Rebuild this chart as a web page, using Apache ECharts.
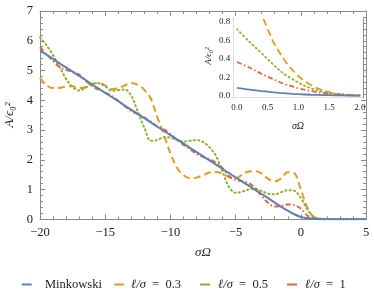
<!DOCTYPE html>
<html><head><meta charset="utf-8">
<script src="https://cdn.jsdelivr.net/npm/echarts@6/dist/echarts.min.js"></script>
<style>html,body{margin:0;padding:0;background:#fff}#c{width:374px;height:302px}</style>
</head><body><div id="c"></div>
<script>
// ---- main plot data (σΩ vs A/ε0²) ----
const sigmaOmega = [-20,-19.5,-19,-18.5,-18,-17.5,-17,-16.5,-16,-15.5,-15,-14.5,-14,-13.5,-13,-12.5,-12,-11.5,-11,-10.5,-10,-9.5,-9,-8.5,-8,-7.5,-7,-6.5,-6,-5.5,-5,-4.5,-4,-3.5,-3,-2.5,-2,-1.5,-1,-0.5,0,0.5,1,1.5,2,3,4,5];
const minkowski = [5.67,5.53,5.39,5.24,5.10,4.96,4.82,4.68,4.53,4.39,4.25,4.11,3.97,3.82,3.68,3.54,3.40,3.26,3.11,2.97,2.83,2.69,2.55,2.40,2.26,2.12,1.98,1.84,1.69,1.55,1.41,1.27,1.13,0.99,0.85,0.71,0.56,0.42,0.29,0.17,0.08,0.04,0.015,0.005,0,0,0,0];
const ell03 = [4.75,4.50,4.41,4.42,4.46,4.47,4.41,4.44,4.54,4.58,4.50,4.38,4.40,4.50,4.58,4.52,4.35,4.05,3.42,2.85,2.22,1.73,1.48,1.38,1.40,1.48,1.57,1.59,1.53,1.42,1.38,1.50,1.61,1.62,1.54,1.36,1.27,1.38,1.58,1.55,1.00,0.40,0.07,0.01,0,0,0,0];
const ell05 = [6.12,5.85,5.52,5.12,4.72,4.45,4.33,4.42,4.56,4.57,4.47,4.32,4.34,4.36,4.15,3.62,3.08,2.64,2.66,2.76,2.74,2.66,2.61,2.64,2.66,2.60,2.42,2.13,1.60,1.08,0.89,0.93,1.00,1.02,0.95,0.86,0.84,0.91,0.98,0.96,0.72,0.33,0.09,0.02,0,0,0,0];
const ell1 = [5.78,5.55,5.32,5.12,5.02,4.96,4.86,4.66,4.48,4.36,4.26,4.14,3.98,3.80,3.64,3.53,3.42,3.28,3.12,3.02,2.86,2.67,2.50,2.36,2.20,2.10,2.02,1.90,1.72,1.45,1.32,1.28,1.22,1.05,0.78,0.55,0.43,0.45,0.50,0.48,0.36,0.13,0.03,0.005,0,0,0,0];
// ---- inset data ----
const insetOmega = [0,0.2,0.4,0.5,0.6,0.7,0.8,0.9,1.0,1.2,1.4,1.6,1.8,2.0];
const insetMinkowski = [0.085,0.066,0.050,0.043,0.036,0.030,0.025,0.020,0.016,0.010,0.006,0.004,0.002,0.001];
const insetEll03 = [1.35,1.10,0.87,0.72,0.57,0.46,0.36,0.28,0.21,0.115,0.055,0.023,0.008,0.003];
const insetEll05 = [0.72,0.585,0.46,0.395,0.33,0.27,0.22,0.18,0.14,0.08,0.043,0.022,0.009,0.003];
const insetEll1 = [0.365,0.305,0.235,0.205,0.175,0.145,0.12,0.10,0.08,0.05,0.028,0.014,0.006,0.002];
// ---- tick values ----
const mainXTicks = [-20,-15,-10,-5,0,5];
const mainYTicks = [0,1,2,3,4,5,6,7];
const insetXTicks = [0,0.5,1.0,1.5,2.0];
const insetYTicks = [0,0.2,0.4,0.6,0.8];
const insetXMinor = [0,0.1,0.2,0.3,0.4,0.5,0.6,0.7,0.8,0.9,1.0,1.1,1.2,1.3,1.4,1.5,1.6,1.7,1.8,1.9,2.0];
const insetYMinor = [0,0.05,0.1,0.15,0.2,0.25,0.3,0.35,0.4,0.45,0.5,0.55,0.6,0.65,0.7,0.75,0.8];
const seriesNames = ['Minkowski','ℓ/σ = 0.3','ℓ/σ = 0.5','ℓ/σ = 1'];

const COLORS = ['#5E81B5','#E19C24','#8FB032','#EB6235'];
const FRAME = '#8a8a8a';
const SERIF = '"Liberation Serif","DejaVu Serif",serif';
const pair = (xs, ys) => xs.map((x,i)=>[x, ys[i]]);
const minus = v => String(v).replace('-', '\u2212');

const chart = echarts.init(document.getElementById('c'), null, {renderer:'canvas'});

function mainAxis(kind, pos, showLabel){
  return {
    type:'value', gridIndex:0, position:pos,
    min: kind==='x' ? -20 : 0, max: kind==='x' ? 5 : 7, interval: kind==='x' ? 5 : 1,
    axisLine:{show:true, onZero:false, lineStyle:{color:FRAME, width:1}},
    axisTick:{show:true, inside:true, length:5, lineStyle:{color:FRAME}},
    minorTick:{show:true, splitNumber:5, length:3, lineStyle:{color:FRAME}},
    splitLine:{show:false},
    axisLabel:{show:showLabel, margin:7, color:'#222', fontFamily:SERIF, fontSize:12.5, formatter:v=>minus(v)}
  };
}
function insetAxis(kind, pos, ticks, len, showLabel){
  return {
    type:'value', gridIndex:1, position:pos,
    min: kind==='x' ? -0.06 : -0.022, max: kind==='x' ? 2.05 : 0.83,
    axisLine:{show:true, onZero:false, lineStyle:{color:FRAME, width:1}},
    axisTick:{show:true, inside:true, length:len, customValues:ticks, lineStyle:{color:FRAME}},
    splitLine:{show:false},
    axisLabel:{show:showLabel, customValues: showLabel ? ticks : undefined, margin: kind==='x'?5:3, color:'#222', fontFamily:SERIF, fontSize:9, formatter:v=>Number(v).toFixed(1)}
  };
}

const dashes = [null, [7,4], [1.2,3.2], [5,2.5,1.5,2.5]];
const order = [1,2,3,0];
const mainData = [minkowski, ell03, ell05, ell1];
const insetData = [insetMinkowski, insetEll03, insetEll05, insetEll1];
const series = [];
order.forEach(k=>{
  series.push({name:seriesNames[k], type:'line', xAxisIndex:0, yAxisIndex:0, data:pair(sigmaOmega, mainData[k]),
    showSymbol:false, smooth:0.35, color:COLORS[k], z:2+(k===0?1:0),
    lineStyle:{width:2, color:COLORS[k], type: dashes[k]||'solid', cap: k===2?'round':'butt'}});
});
order.forEach(k=>{
  series.push({name:seriesNames[k], type:'line', xAxisIndex:2, yAxisIndex:2, data:pair(insetOmega, insetData[k]),
    showSymbol:false, smooth:0.35, color:COLORS[k], z:12+(k===0?1:0), clip:true,
    lineStyle:{width:1.8, color:COLORS[k], type: dashes[k]||'solid', cap: k===2?'round':'butt'}});
});

// legend: solid short swatches + labels (positions as in the reference)
const legendSwatchX = [21.7, 114.3, 200, 287];
const legendTextX = [45, 131, 218, 305];
const legendY = 284.5;
const legendGraphics = [];
seriesNames.forEach((n,k)=>{
  legendGraphics.push({type:'line', z:20, shape:{x1:legendSwatchX[k], y1:legendY, x2:legendSwatchX[k]+10, y2:legendY},
    style:{stroke:COLORS[k], lineWidth:2}});
  const txt = k===0 ? n : '{i|ℓ/σ}\u2002=\u2002' + n.split('= ')[1];
  legendGraphics.push({type:'text', z:20, x:legendTextX[k], y:legendY,
    style:{text:txt, font:'12.5px '+SERIF, fill:'#222', textAlign:'left', textVerticalAlign:'middle',
      rich:{i:{fontStyle:'italic', fontFamily:SERIF, fontSize:12.5, fill:'#222'}}}});
});

chart.setOption({
  animation:false,
  backgroundColor:'#fff',
  grid:[
    {left:40, top:11, width:326, height:208.3, show:false},
    {left:233.3, top:19, width:129.7, height:78.7, show:true, backgroundColor:'#fff', borderWidth:0, z:10}
  ],
  xAxis:[
    mainAxis('x','bottom',true),
    mainAxis('x','top',false),
    insetAxis('x','bottom',insetXTicks,3,true),
    insetAxis('x','bottom',insetXMinor,1.8,false),
    insetAxis('x','top',insetXTicks,3,false),
    insetAxis('x','top',insetXMinor,1.8,false)
  ],
  yAxis:[
    mainAxis('y','left',true),
    mainAxis('y','right',false),
    insetAxis('y','left',insetYTicks,3,true),
    insetAxis('y','left',insetYMinor,1.8,false),
    insetAxis('y','right',insetYTicks,3,false),
    insetAxis('y','right',insetYMinor,1.8,false)
  ],
  graphic:[
    {type:'text', x:10, y:115, rotation:Math.PI/2, z:20,
      style:{text:'A/ϵ₀²', font:'italic 13px '+SERIF, fill:'#222', textAlign:'center', textVerticalAlign:'middle'}},
    {type:'text', x:203, y:253, z:20,
      style:{text:'σΩ', font:'italic 13px '+SERIF, fill:'#222', textAlign:'center', textVerticalAlign:'middle'}},
    {type:'text', x:209, y:56, rotation:Math.PI/2, z:20,
      style:{text:'A/ϵ₀²', font:'italic 9px '+SERIF, fill:'#222', textAlign:'center', textVerticalAlign:'middle'}},
    {type:'text', x:298, y:126, z:20,
      style:{text:'σΩ', font:'italic 10px '+SERIF, fill:'#222', textAlign:'center', textVerticalAlign:'middle'}}
  ].concat(legendGraphics),
  series: series
});
</script></body></html>
